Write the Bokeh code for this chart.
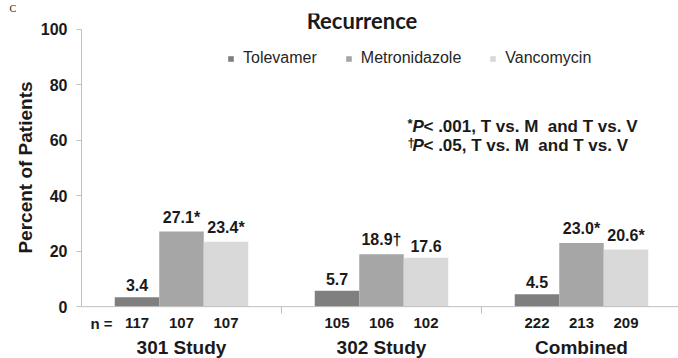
from bokeh.plotting import figure
from bokeh.models import (ColumnDataSource, Legend, LegendItem, FixedTicker,
                          Range1d, LabelSet, Span)
from bokeh.core.properties import value
from bokeh.embed import file_html
from bokeh.resources import INLINE

# ---- data ----
studies = ["301 Study", "302 Study", "Combined"]
series_names = ["Tolevamer", "Metronidazole", "Vancomycin"]
tolevamer = [3.4, 5.7, 4.5]
metronidazole = [27.1, 18.9, 23.0]
vancomycin = [23.4, 17.6, 20.6]
tolevamer_marks = ["", "", ""]
metronidazole_marks = ["*", "\u2020", "*"]
vancomycin_marks = ["*", "", "*"]
n_tolevamer = [117, 105, 222]
n_metronidazole = [107, 106, 213]
n_vancomycin = [107, 102, 209]
y_ticks = [0, 20, 40, 60, 80, 100]

colors = ["#7f7f7f", "#a6a6a6", "#d9d9d9"]
ARIAL = value("Liberation Sans")
INK = "#1a1a1a"
AXIS_GREY = "#c0c0c0"

BAR_W = 0.2225
offsets = [-BAR_W, 0.0, BAR_W]

# the panel tag sits in a small title strip; the frame fills the rest of the height
# so the labels under the baseline and the chart heading use the data scales
TAG_H = 12
PX_PER_UNIT = 2.78
y_lo = -52 / PX_PER_UNIT
y_hi = (306 - TAG_H) / PX_PER_UNIT

p = figure(width=678, height=358, x_range=Range1d(0, 2.985), y_range=Range1d(y_lo, y_hi),
           output_backend="svg", toolbar_location=None, x_axis_location=None,
           min_border_left=81, min_border_right=0, min_border_top=0, min_border_bottom=0)
p.outline_line_color = None
p.grid.visible = False
p.background_fill_color = "white"
p.border_fill_color = "white"

p.title.text = "C"
p.title.align = "left"
p.title.offset = -72
p.title.standoff = 0
p.title.text_font = "Liberation Serif"
p.title.text_font_style = "normal"
p.title.text_font_size = "10px"
p.title.text_color = INK

# ---- bars ----
renderers = []
all_vals = [tolevamer, metronidazole, vancomycin]
all_marks = [tolevamer_marks, metronidazole_marks, vancomycin_marks]
all_n = [n_tolevamer, n_metronidazole, n_vancomycin]
for k, (vals, marks, ns) in enumerate(zip(all_vals, all_marks, all_n)):
    xs = [i + 0.5 + offsets[k] for i in range(len(studies))]
    src = ColumnDataSource(dict(
        x=xs, top=vals,
        label=[f"{v:.1f}{m}" for v, m in zip(vals, marks)],
        n=[str(n) for n in ns],
        ny=[-6.0] * len(ns),
    ))
    r = p.vbar(x="x", top="top", width=BAR_W, source=src, fill_color=colors[k],
               line_color=None)
    renderers.append(r)
    p.add_layout(LabelSet(x="x", y="top", text="label", source=src, text_align="center",
                          text_baseline="bottom", y_offset=6, text_font=ARIAL,
                          text_font_style="bold", text_font_size="16px",
                          text_color=INK))
    p.text(x="x", y="ny", text="n", source=src, text_align="center",
           text_baseline="middle", text_font=ARIAL, text_font_style="bold",
           text_font_size="15px", text_color=INK)

# baseline and group separators
p.add_layout(Span(location=0, dimension="width", line_color=AXIS_GREY, line_width=1))
p.segment(x0=[1, 2], y0=[0, 0], x1=[1, 2], y1=[-7 / PX_PER_UNIT] * 2,
          line_color=AXIS_GREY, line_width=1)

p.text(x=[0.1], y=[-6.0], text=["n ="], text_align="center", text_baseline="middle",
       text_font=ARIAL, text_font_style="bold", text_font_size="15px", text_color=INK)

p.text(x=[i + 0.5 for i in range(len(studies))], y=[-14.7] * len(studies), text=studies,
       text_align="center", text_baseline="middle", text_font=ARIAL,
       text_font_style="bold", text_font_size="19px", text_color=INK)

# ---- y axis ----
p.yaxis.bounds = (0, 100)
p.yaxis.ticker = FixedTicker(ticks=y_ticks)
# leading no-break spaces lift the label so it centres on the 0-100 span
p.yaxis.axis_label = "\u00a0" * 7 + "Percent of Patients"
p.yaxis.axis_label_text_font = "Liberation Sans"
p.yaxis.axis_label_text_font_style = "bold"
p.yaxis.axis_label_text_font_size = "19px"
p.yaxis.axis_label_text_color = INK
p.yaxis.axis_label_standoff = 2
p.yaxis.major_label_text_font = "Liberation Sans"
p.yaxis.major_label_text_font_style = "bold"
p.yaxis.major_label_text_font_size = "16px"
p.yaxis.major_label_text_color = INK
p.yaxis.major_label_standoff = 9
p.yaxis.major_tick_out = 5
p.yaxis.major_tick_in = 0
p.yaxis.minor_tick_line_color = None
p.yaxis.axis_line_color = AXIS_GREY
p.yaxis.major_tick_line_color = AXIS_GREY

# ---- legend ----
legend = Legend(items=[LegendItem(label=nm, renderers=[r]) for nm, r in zip(series_names, renderers)],
                orientation="horizontal", location=(146, 291), glyph_width=7, glyph_height=7,
                label_standoff=9, spacing=28, padding=0, margin=0, border_line_color=None,
                background_fill_alpha=0, label_text_font="Liberation Sans",
                label_text_font_size="16px", label_text_color="#262626")
p.add_layout(legend, "center")

# ---- heading ----
p.text(x=[1.4025], y=[(306 - 19) / PX_PER_UNIT], text=["Recurrence"], text_align="center",
       text_baseline="middle", text_font=value("Lato"), text_font_style="bold",
       text_font_size="22px", text_color=INK)

# ---- significance footnotes ----
line1_y = (306 - 125) / PX_PER_UNIT
line2_y = (306 - 144) / PX_PER_UNIT
p.text(x=[1.63, 1.63], y=[line1_y, line2_y], text=["*", "\u2020"], text_align="left",
       text_baseline="middle", text_font=ARIAL, text_font_style="bold",
       text_font_size="13px", text_color=INK, y_offset=-3)
p.text(x=[1.655, 1.655], y=[line1_y, line2_y], text=["P", "P"], text_align="left",
       text_baseline="middle", text_font=ARIAL, text_font_style="bold italic",
       text_font_size="17px", text_color=INK)
p.text(x=[1.71, 1.71], y=[line1_y, line2_y],
       text=["< .001, T vs. M \u00a0and T vs. V", "< .05, T vs. M \u00a0and T vs. V"],
       text_align="left", text_baseline="middle", text_font=ARIAL, text_font_style="bold",
       text_font_size="17px", text_color=INK)

open("out.html", "w").write(file_html(p, INLINE))
